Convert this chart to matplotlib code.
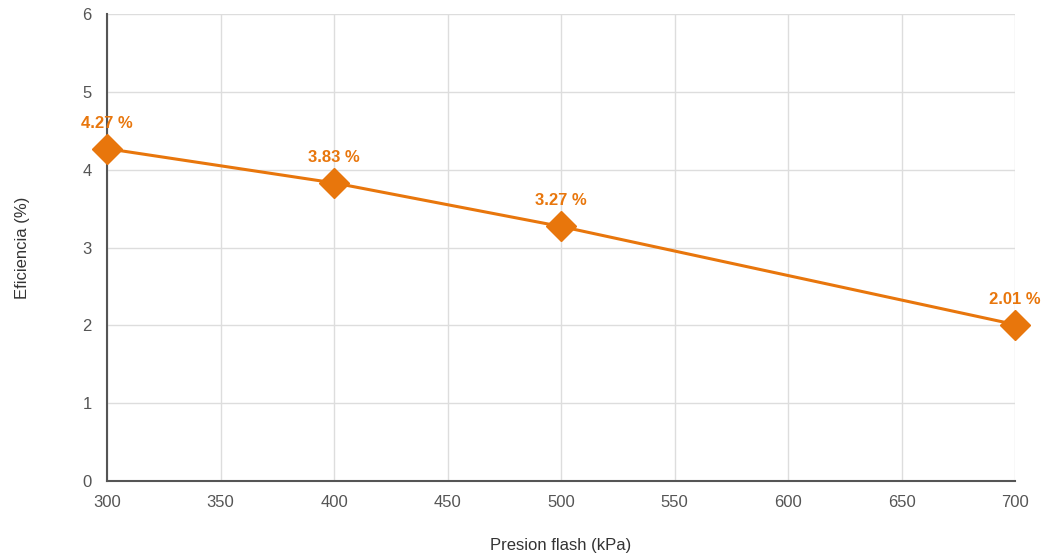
import matplotlib.pyplot as plt

plt.rcParams['font.family'] = ['Liberation Sans', 'DejaVu Sans']

presion = [300, 400, 500, 700]
eficiencia = [4.27, 3.83, 3.27, 2.01]
etiquetas = ['4.27 %', '3.83 %', '3.27 %', '2.01 %']

naranja = '#E8760C'
gris = '#555555'

fig = plt.figure(figsize=(10.43, 5.56), dpi=100)
ax = fig.add_axes([0.1026, 0.1349, 0.8706, 0.8399])

ax.plot(presion, eficiencia, color=naranja, lw=2.2, marker='D', ms=15,
        zorder=3, clip_on=False)
for x, y, t in zip(presion, eficiencia, etiquetas):
    ax.annotate(t, (x, y), xytext=(0, 13), textcoords='offset points',
                ha='center', va='bottom', color=naranja, fontsize=12,
                fontweight='bold')

ax.set_xlim(300, 700)
ax.set_ylim(0, 6)
ax.set_xticks(range(300, 701, 50))
ax.set_yticks(range(0, 7))
ax.grid(True, color='#dddddd', lw=1)
ax.set_axisbelow(True)
ax.tick_params(length=0, labelsize=12, colors=gris, pad=10)
ax.tick_params(axis='y', pad=11)
for s in ['top', 'right']:
    ax.spines[s].set_visible(False)
for s in ['left', 'bottom']:
    ax.spines[s].set_color('#555555')
    ax.spines[s].set_linewidth(1.5)

ax.set_xlabel('Presion flash (kPa)', fontsize=12, color='#333333', labelpad=20)
ax.set_ylabel('Eficiencia (%)', fontsize=12, color='#333333', labelpad=38)

fig.savefig('out.png', dpi=100)
